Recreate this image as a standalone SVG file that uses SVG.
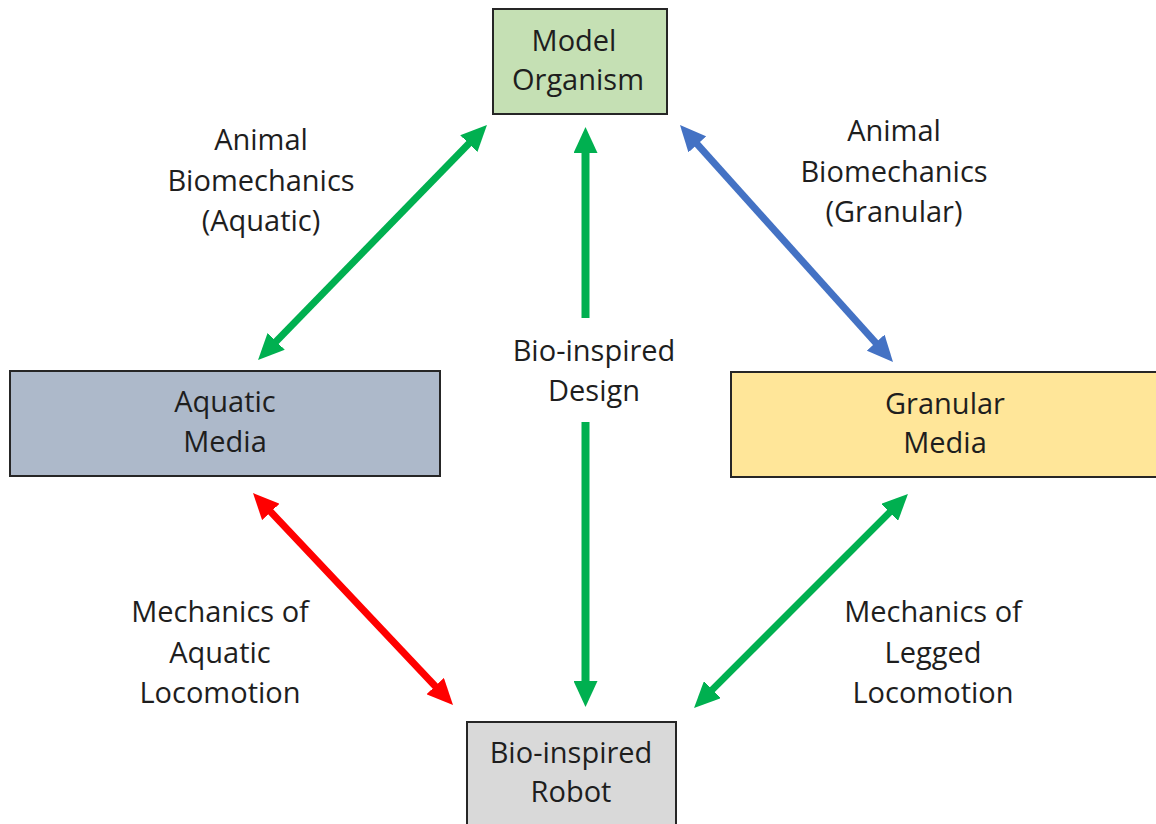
<svg xmlns="http://www.w3.org/2000/svg" width="1156" height="824" viewBox="0 0 1156 824">
<style>
text{font-family:"Open Sans","Noto Sans","Liberation Sans",sans-serif;font-size:29px;fill:#1e1e1e;text-anchor:middle}
.box{stroke:#262626;stroke-width:2}
.c{fill:none;stroke-linecap:butt}
</style>
<defs>
<marker id="ahg" viewBox="0 0 26 24" refX="4" refY="12" markerWidth="26" markerHeight="24" markerUnits="userSpaceOnUse" orient="auto-start-reverse"><path d="M0,0 L26,12 L0,24 z" fill="#00b050"/></marker>
<marker id="ahb" viewBox="0 0 26 24" refX="4" refY="12" markerWidth="26" markerHeight="24" markerUnits="userSpaceOnUse" orient="auto-start-reverse"><path d="M0,0 L26,12 L0,24 z" fill="#4472c4"/></marker>
<marker id="ahr" viewBox="0 0 26 24" refX="4" refY="12" markerWidth="26" markerHeight="24" markerUnits="userSpaceOnUse" orient="auto-start-reverse"><path d="M0,0 L26,12 L0,24 z" fill="#ff0000"/></marker>
</defs>
<rect width="1156" height="824" fill="#ffffff"/>
<g id="connectors">
<line class="c" x1="273.4" y1="344.2" x2="471.6" y2="140.8" stroke="#00b050" stroke-width="7" marker-start="url(#ahg)" marker-end="url(#ahg)"/>
<line class="c" x1="694.7" y1="141.4" x2="878.3" y2="345.6" stroke="#4472c4" stroke-width="7" marker-start="url(#ahb)" marker-end="url(#ahb)"/>
<line class="c" x1="268.1" y1="509" x2="437.9" y2="689" stroke="#ff0000" stroke-width="7" marker-start="url(#ahr)" marker-end="url(#ahr)"/>
<line class="c" x1="892.4" y1="509.6" x2="709.6" y2="692.4" stroke="#00b050" stroke-width="7" marker-start="url(#ahg)" marker-end="url(#ahg)"/>
<line class="c" x1="585.5" y1="318" x2="585.5" y2="149" stroke="#00b050" stroke-width="8" marker-end="url(#ahg)"/>
<line class="c" x1="585.5" y1="422" x2="585.5" y2="685" stroke="#00b050" stroke-width="8" marker-end="url(#ahg)"/>
</g>
<g id="labels">
<text x="261" y="150">Animal</text>
<text x="261" y="191">Biomechanics</text>
<text x="261" y="231">(Aquatic)</text>
<text x="894" y="141">Animal</text>
<text x="894" y="182">Biomechanics</text>
<text x="894" y="222">(Granular)</text>
<text x="594" y="361">Bio-inspired</text>
<text x="594" y="401">Design</text>
<text x="220" y="622">Mechanics of</text>
<text x="220" y="663">Aquatic</text>
<text x="220" y="703">Locomotion</text>
<text x="933" y="622">Mechanics of</text>
<text x="933" y="663">Legged</text>
<text x="933" y="703">Locomotion</text>
</g>
<g id="model-organism">
<rect class="box" x="493" y="9" width="174" height="105" fill="#c5e0b4"/>
<text x="574" y="51">Model</text>
<text x="578" y="90">Organism</text>
</g>
<g id="aquatic-media">
<rect class="box" x="10" y="371" width="430" height="105" fill="#adb9ca"/>
<text x="225" y="412">Aquatic</text>
<text x="225" y="452">Media</text>
</g>
<g id="granular-media">
<rect class="box" x="731" y="372" width="430" height="105" fill="#ffe699"/>
<text x="945" y="414">Granular</text>
<text x="945" y="453">Media</text>
</g>
<g id="bio-inspired-robot">
<rect class="box" x="467" y="722" width="209" height="110" fill="#d9d9d9"/>
<text x="571" y="763">Bio-inspired</text>
<text x="571" y="802">Robot</text>
</g>
</svg>
